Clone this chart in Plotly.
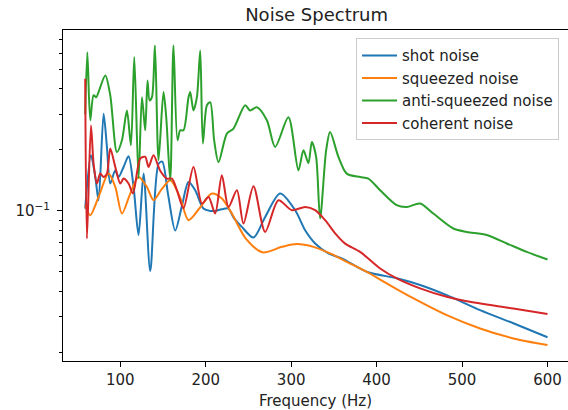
import plotly.graph_objects as go

# ---- data ----
shot_x = [59, 65.7, 70.8, 74.6, 80.5, 84.4, 88.3, 94.2, 98.0, 103.9, 109.7, 115.6, 121.4,
          127.3, 135.1, 144.8, 149.1, 156.2, 164.3, 172, 179.9, 187.7, 197.4, 205.3, 211.1,
          218.9, 226.7, 232.5, 242.3, 255.9, 269.6, 287.1, 304.7, 316.4, 328.1, 343.6,
          359.3, 388.5, 423.6, 450.9, 482.1, 521.1, 560, 600]
shot_y = [0.1027, 0.188, 0.147, 0.1129, 0.302, 0.207, 0.1365, 0.1587, 0.147, 0.1647, 0.186,
          0.1313, 0.076, 0.1528, 0.0505, 0.171, 0.175, 0.119, 0.080, 0.105, 0.139, 0.1265,
          0.1027, 0.100, 0.100, 0.102, 0.1027, 0.093, 0.0834, 0.0739, 0.0934, 0.1218, 0.1008,
          0.0803, 0.0691, 0.0617, 0.0583, 0.0501, 0.0465, 0.0431, 0.0384, 0.0324, 0.0279, 0.0238]

squeezed_x = [59, 64.9, 74.6, 86.3, 94.2, 102.0, 111.7, 121.4, 131.2, 138.9, 148.5, 158.5,
              169.5, 179.9, 193.5, 207.3, 218.9, 230.6, 247, 266.5, 289.1, 306.7, 326.1,
              345.6, 365.1, 388.5, 411.9, 443.3, 482.1, 521.1, 560, 600]
squeezed_y = [0.1067, 0.0953, 0.1172, 0.1528, 0.1313, 0.0971, 0.1218, 0.147, 0.1313, 0.1129,
              0.128, 0.1416, 0.118, 0.090, 0.104, 0.1218, 0.1151, 0.0971, 0.073, 0.0625,
              0.0665, 0.0686, 0.0665, 0.0617, 0.0561, 0.0501, 0.0439, 0.037, 0.0306, 0.0263,
              0.0235, 0.0218]

anti_x = [59, 61.5, 64.9, 68.8, 71.9, 74.6, 82.5, 88.3, 96.1, 102.0, 107.8, 112.5, 116.4,
          121.4, 125.4, 129.2, 131.9, 134.3, 137.1, 140.6, 144.8, 150.6, 153.8, 158.5, 162.3,
          167.0, 170.2, 174.0, 179.9, 181.9, 185.7, 189.7, 193.6, 196.7, 201.4, 205.3, 209.9,
          215.0, 224.8, 232.5, 246.2, 252.0, 259.9, 271.6, 281.3, 296.8, 308.5, 314.4, 320.2,
          324.2, 329.2, 333.9, 341, 345.6, 355.3, 365.1, 380.7, 390.4, 404.1, 423.6, 435.3,
          450.9, 466.4, 489.8, 505.5, 528.9, 552.3, 575.7, 600]
anti_y = [0.30, 0.607, 0.280, 0.372, 0.364, 0.386, 0.466, 0.372, 0.195, 0.223, 0.313, 0.211,
          0.574, 0.145, 0.364, 0.250, 0.440, 0.351, 0.364, 0.655, 0.178, 0.386, 0.290, 0.1416,
          0.655, 0.223, 0.250, 0.250, 0.364, 0.386, 0.313, 0.364, 0.619, 0.215, 0.332, 0.344,
          0.223, 0.174, 0.2405, 0.255, 0.332, 0.313, 0.325, 0.280, 0.207, 0.290, 0.1587, 0.199,
          0.172, 0.219, 0.185, 0.0918, 0.200, 0.245, 0.185, 0.1528, 0.147, 0.1444, 0.1265,
          0.1067, 0.1046, 0.1088, 0.0971, 0.0819, 0.0788, 0.076, 0.0691, 0.0628, 0.0576]

coherent_x = [59, 61, 65.7, 68.8, 72.7, 76.6, 80.5, 84.4, 88.3, 94.2, 100, 103.9, 109.7,
              114.9, 123.4, 129.2, 133.1, 138.9, 146.8, 154.6, 160.5, 166.3, 174.0, 185.7,
              195.6, 203.3, 211.1, 218.9, 226.7, 236.5, 244.2, 255.9, 269.6, 285.1, 300.8,
              316.4, 328.1, 339.8, 351.5, 363.2, 380.7, 404.1, 423.6, 450.9, 482.1, 505.5,
              560, 600]
coherent_y = [0.449, 0.0731, 0.264, 0.171, 0.1365, 0.1528, 0.147, 0.1528, 0.203, 0.1647,
              0.1365, 0.1444, 0.1365, 0.1218, 0.181, 0.185, 0.1647, 0.188, 0.158, 0.1444,
              0.1444, 0.1265, 0.103, 0.1647, 0.1088, 0.1172, 0.0971, 0.1499, 0.1046, 0.1265,
              0.0867, 0.1323, 0.0788, 0.1129, 0.1008, 0.1046, 0.1008, 0.090, 0.0775, 0.069,
              0.0628, 0.052, 0.0465, 0.0415, 0.0377, 0.0358, 0.033, 0.031]

names = ["shot noise", "squeezed noise", "anti-squeezed noise", "coherent noise"]
colors = ["#1f77b4", "#ff7f0e", "#2ca02c", "#d62728"]

x_ticks = [100, 200, 300, 400, 500, 600]
y_major = [0.1]
y_major_text = ["10<sup>−1</sup>"]
y_minor = [0.02, 0.03, 0.04, 0.05, 0.06, 0.07, 0.08, 0.09, 0.2, 0.3, 0.4, 0.5, 0.6, 0.7]

FONT = "DejaVu Sans"
TXT = "#222222"
FS = 15

fig = go.Figure()
series = [(shot_x, shot_y), (squeezed_x, squeezed_y), (anti_x, anti_y), (coherent_x, coherent_y)]
for i, ((xs, ys), nm, c) in enumerate(zip(series, names, colors)):
    fig.add_trace(go.Scatter(x=xs, y=ys, mode="lines", name=nm, legendgroup=str(i),
                             line=dict(color=c, width=2, shape="spline", smoothing=0.8)))

fig.update_layout(
    template="none",
    width=568, height=410,
    margin=dict(l=63, r=0, t=30, b=49, autoexpand=False),
    paper_bgcolor="white", plot_bgcolor="white",
    font=dict(family=FONT, size=FS, color=TXT),
    title=dict(text="Noise Spectrum", x=316.6 / 568, xanchor="center",
               y=1 - 15 / 410, yanchor="middle", font=dict(size=18, color=TXT)),
    showlegend=True,
    legend=dict(x=(356 - 63) / 505, y=(361 - 38.3) / 331, xanchor="left", yanchor="top",
                bgcolor="rgba(255,255,255,0.8)", bordercolor="#cccccc", borderwidth=1,
                font=dict(size=FS, color=TXT), tracegroupgap=0, itemwidth=35),
    xaxis=dict(range=[33, 624], tickmode="array", tickvals=x_ticks, automargin=False,
               ticks="outside", ticklen=5, tickwidth=1, tickcolor="black",
               showline=True, linecolor="black", linewidth=1, mirror=True,
               showgrid=False, zeroline=False,
               title=dict(text="Frequency (Hz)", standoff=8, font=dict(size=FS, color=TXT))),
    yaxis=dict(type="log", range=[-1.7404, -0.1074], tickmode="array", automargin=False,
               tickvals=y_major, ticktext=y_major_text,
               ticks="outside", ticklen=5, tickwidth=1, tickcolor="black",
               ticklabelstandoff=4,
               minor=dict(tickmode="array", tickvals=y_minor, ticks="outside",
                          ticklen=3, tickwidth=0.8, tickcolor="black", showgrid=False),
               showline=True, linecolor="black", linewidth=1, mirror=False,
               showgrid=False, zeroline=False),
)

fig.write_html("out.html", config={"displayModeBar": False},
               post_script="document.body.style.margin='0';document.body.style.overflow='hidden';")
